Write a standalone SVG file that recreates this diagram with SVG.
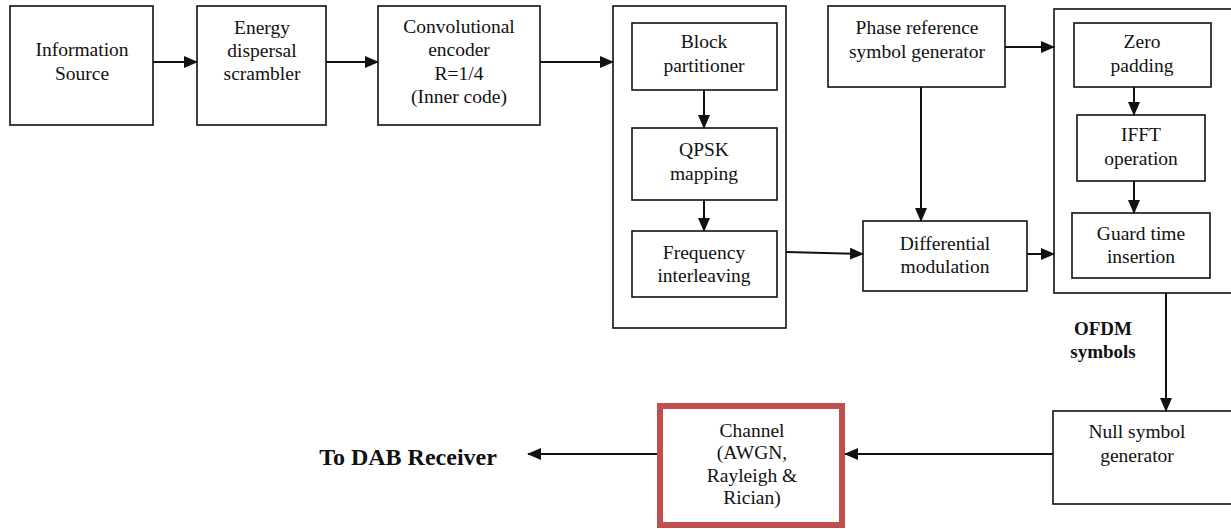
<svg xmlns="http://www.w3.org/2000/svg" width="1231" height="529" viewBox="0 0 1231 529">
<style>
.box{fill:#fff;stroke:#111;stroke-width:1.6}
.ch{fill:#fff;stroke:#c0504d;stroke-width:6}
.t{font-family:"Liberation Serif","Times New Roman",serif;font-size:19.5px;fill:#111;text-anchor:middle}
.b{font-weight:bold}
.w{fill:none;stroke:#111;stroke-width:2}
</style>
<defs>
<marker id="ah" markerUnits="userSpaceOnUse" markerWidth="14" markerHeight="12" refX="13" refY="6" orient="auto">
<path d="M0,0 L14,6 L0,12 Z" fill="#111"/>
</marker>
</defs>
<rect width="1231" height="529" fill="#fff"/>
<g id="info"><rect class="box" x="10" y="6" width="143" height="119"/>
<text class="t" x="82" y="56">Information</text><text class="t" x="82" y="80">Source</text></g>
<g id="energy"><rect class="box" x="197" y="6" width="129" height="119"/>
<text class="t" x="262" y="34">Energy</text><text class="t" x="262" y="57">dispersal</text><text class="t" x="262" y="80">scrambler</text></g>
<g id="conv"><rect class="box" x="378" y="6" width="162" height="119"/>
<text class="t" x="459" y="33">Convolutional</text><text class="t" x="459" y="56">encoder</text><text class="t" x="459" y="80">R=1/4</text><text class="t" x="459" y="103">(Inner code)</text></g>
<g id="group1"><rect class="box" x="613" y="6" width="173" height="322"/></g>
<g id="block"><rect class="box" x="632" y="23" width="145" height="67"/>
<text class="t" x="704" y="48">Block</text><text class="t" x="704" y="72">partitioner</text></g>
<g id="qpsk"><rect class="box" x="632" y="128" width="145" height="72"/>
<text class="t" x="704" y="156">QPSK</text><text class="t" x="704" y="180">mapping</text></g>
<g id="freq"><rect class="box" x="632" y="231" width="145" height="66"/>
<text class="t" x="704" y="259">Frequency</text><text class="t" x="704" y="282">interleaving</text></g>
<g id="phase"><rect class="box" x="828" y="6" width="177" height="81"/>
<text class="t" x="917" y="34">Phase reference</text><text class="t" x="917" y="58">symbol generator</text></g>
<g id="diff"><rect class="box" x="863" y="221" width="164" height="70"/>
<text class="t" x="945" y="250">Differential</text><text class="t" x="945" y="273">modulation</text></g>
<g id="group2"><rect class="box" x="1054" y="9" width="190" height="284"/></g>
<g id="zero"><rect class="box" x="1074" y="23" width="137" height="64"/>
<text class="t" x="1142" y="48">Zero</text><text class="t" x="1142" y="72">padding</text></g>
<g id="ifft"><rect class="box" x="1077" y="115" width="128" height="66"/>
<text class="t" x="1141" y="141">IFFT</text><text class="t" x="1141" y="165">operation</text></g>
<g id="guard"><rect class="box" x="1072" y="213" width="138" height="65"/>
<text class="t" x="1141" y="240">Guard time</text><text class="t" x="1141" y="263">insertion</text></g>
<g id="null"><rect class="box" x="1053" y="411" width="190" height="93"/>
<text class="t" x="1137" y="438">Null symbol</text><text class="t" x="1137" y="462">generator</text></g>
<g id="channel"><rect class="ch" x="660" y="406" width="182" height="119"/>
<text class="t" x="752" y="437">Channel</text><text class="t" x="752" y="459">(AWGN,</text><text class="t" x="752" y="482">Rayleigh &amp;</text><text class="t" x="752" y="504">Rician)</text></g>
<g id="dab"><text class="t b" x="408" y="465" style="font-size:24px">To DAB Receiver</text></g>
<g id="ofdm-label"><text class="t b" x="1103" y="335" style="font-size:19px">OFDM</text><text class="t b" x="1103" y="358" style="font-size:19px">symbols</text></g>
<g id="connectors">
<line class="w" x1="153" y1="62" x2="197" y2="62" marker-end="url(#ah)"/>
<line class="w" x1="326" y1="62" x2="378" y2="62" marker-end="url(#ah)"/>
<line class="w" x1="540" y1="62" x2="613" y2="62" marker-end="url(#ah)"/>
<line class="w" x1="704" y1="90" x2="704" y2="128" marker-end="url(#ah)"/>
<line class="w" x1="704" y1="200" x2="704" y2="231" marker-end="url(#ah)"/>
<line class="w" x1="1134" y1="87" x2="1134" y2="115" marker-end="url(#ah)"/>
<line class="w" x1="1134" y1="181" x2="1134" y2="213" marker-end="url(#ah)"/>
<line class="w" x1="1005" y1="47" x2="1054" y2="47" marker-end="url(#ah)"/>
<line class="w" x1="921" y1="87" x2="921" y2="221" marker-end="url(#ah)"/>
<line class="w" x1="786" y1="252" x2="863" y2="254" marker-end="url(#ah)"/>
<line class="w" x1="1027" y1="254" x2="1054" y2="254" marker-end="url(#ah)"/>
<line class="w" x1="1166" y1="293" x2="1166" y2="411" marker-end="url(#ah)"/>
<line class="w" x1="1053" y1="454" x2="845" y2="454" marker-end="url(#ah)"/>
<line class="w" x1="657" y1="454" x2="528" y2="454" marker-end="url(#ah)"/>
</g>
</svg>
